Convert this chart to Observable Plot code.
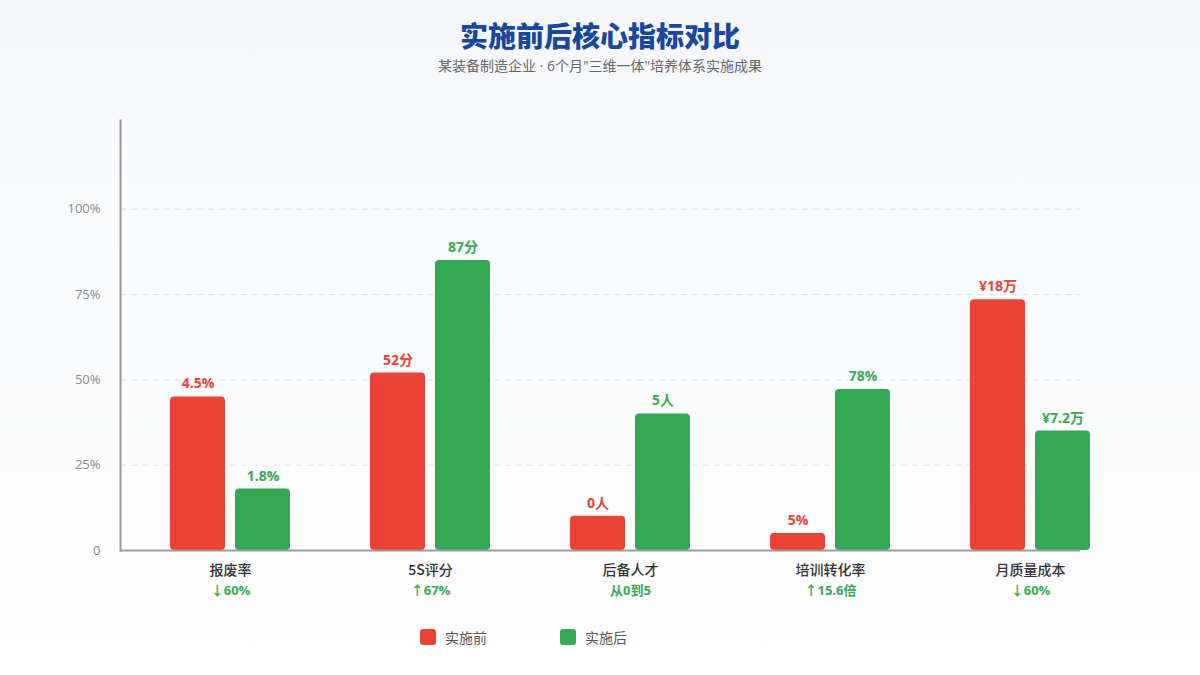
<!DOCTYPE html>
<html>
<head>
<meta charset="utf-8">
<script src="https://cdn.jsdelivr.net/npm/d3@7"></script>
<script src="https://cdn.jsdelivr.net/npm/@observablehq/plot@0.6"></script>
<style>
  html, body { margin: 0; padding: 0; }
  body {
    width: 1200px; height: 675px; overflow: hidden;
    background: linear-gradient(to bottom, #f5f7fa 0%, #fbfcfd 55%, #ffffff 100%);
    font-family: "Open Sans", "Noto Sans CJK SC", sans-serif;
  }
  #header { height: 95px; box-sizing: border-box; padding-top: 17px; text-align: center; }
  #title { font-family: "Noto Sans CJK SC", sans-serif; font-weight: 900; font-size: 28px; line-height: 36px; color: #1847a0; }
  #subtitle { font-family: "Open Sans", "Noto Sans CJK SC", sans-serif; font-size: 14px; line-height: 20px; color: #666; margin-top: 3px; }
  #chart svg { display: block; background: transparent; }
  #legend { height: 24px; display: flex; align-items: center; padding-left: 420px; font-family: "Noto Sans CJK SC", sans-serif; font-size: 14px; color: #555; }
  .item { display: flex; align-items: center; }
  .sw { width: 16px; height: 16px; border-radius: 3px; margin-right: 9px; }
</style>
</head>
<body>
<div id="header">
  <div id="title">实施前后核心指标对比</div>
  <div id="subtitle">某装备制造企业 · 6个月"三维一体"培养体系实施成果</div>
</div>
<div id="chart"></div>
<div id="legend"></div>
<script>
const categories = ["报废率", "5S评分", "后备人才", "培训转化率", "月质量成本"];
const changeLabels = ["↓60%", "↑67%", "从0到5", "↑15.6倍", "↓60%"];
const seriesNames = ["实施前", "实施后"];
const seriesColors = ["#EA4335", "#34A853"];
const beforeValues = [45, 52, 10, 5, 73.5];
const afterValues = [18, 85, 40, 47.2, 35];
const beforeLabels = ["4.5%", "52分", "0人", "5%", "¥18万"];
const afterLabels = ["1.8%", "87分", "5人", "78%", "¥7.2万"];
const yTicks = [0, 25, 50, 75, 100];

const before = categories.map((c, i) => ({cat: c, value: beforeValues[i], label: beforeLabels[i]}));
const after = categories.map((c, i) => ({cat: c, value: afterValues[i], label: afterLabels[i]}));
const cats = categories.map((c, i) => ({cat: c, change: changeLabels[i]}));

const chart = Plot.plot({
  width: 1200,
  height: 530,
  marginLeft: 120,
  marginRight: 120,
  marginTop: 25,
  marginBottom: 75,
  style: {background: "transparent", fontFamily: "'Open Sans', 'Noto Sans CJK SC', sans-serif"},
  x: {type: "band", domain: categories, range: [130, 1130], padding: 0, axis: null},
  y: {domain: [0, 126], axis: null},
  marks: [
    Plot.gridY(yTicks.filter(d => d > 0), {stroke: "#dfe3e8", strokeOpacity: 1, strokeDasharray: "6,5", strokeWidth: 1}),
    Plot.axisY(yTicks, {label: null, tickSize: 0, tickPadding: 20, fontSize: 13, fill: "#888", tickFormat: d => d === 0 ? "0" : d + "%"}),
    Plot.rectY(before, {x: "cat", y: "value", fill: seriesColors[0], insetLeft: 40, insetRight: 105, rx: 4}),
    Plot.rectY(after, {x: "cat", y: "value", fill: seriesColors[1], insetLeft: 105, insetRight: 40, rx: 4}),
    Plot.text(before, {x: "cat", y: "value", text: "label", dx: -32.5, dy: -13, lineAnchor: "middle", fill: seriesColors[0], fontWeight: "bold", fontSize: 14}),
    Plot.text(after, {x: "cat", y: "value", text: "label", dx: 32.5, dy: -13, lineAnchor: "middle", fill: seriesColors[1], fontWeight: "bold", fontSize: 14}),
    Plot.frame({anchor: "left", stroke: "#9a9a9a", strokeWidth: 2}),
    Plot.ruleY([0], {stroke: "#9a9a9a", strokeWidth: 2}),
    Plot.text(cats, {x: "cat", y: () => 0, text: "cat", dy: 20, lineAnchor: "middle", fill: "#333", fontSize: 14, fontWeight: 500, fontFamily: "'Noto Sans CJK SC', sans-serif"}),
    Plot.text(cats, {x: "cat", y: () => 0, text: "change", dy: 40, lineAnchor: "middle", fill: seriesColors[1], fontSize: 13, fontWeight: "bold"})
  ]
});
document.getElementById("chart").appendChild(chart);

const legend = document.getElementById("legend");
seriesNames.forEach((name, i) => {
  const item = document.createElement("div");
  item.className = "item";
  if (i === 0) item.style.marginRight = "73px";
  const sw = document.createElement("div");
  sw.className = "sw";
  sw.style.background = seriesColors[i];
  const t = document.createElement("span");
  t.textContent = name;
  item.appendChild(sw);
  item.appendChild(t);
  legend.appendChild(item);
});
</script>
</body>
</html>
